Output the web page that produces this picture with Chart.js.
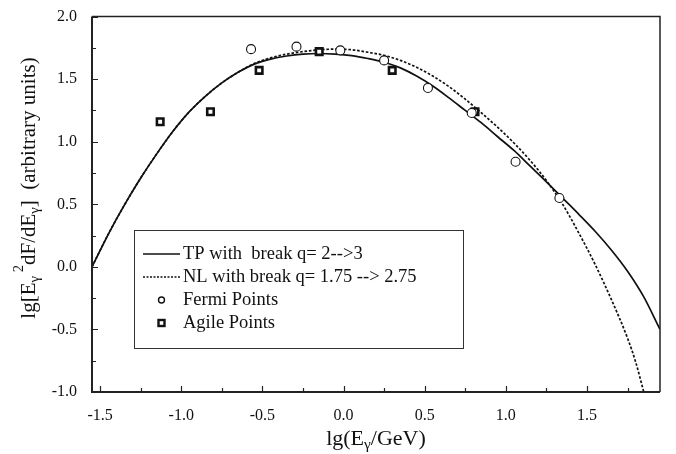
<!DOCTYPE html>
<html>
<head>
<meta charset="utf-8">
<script src="https://cdn.jsdelivr.net/npm/chart.js@4.4.1/dist/chart.umd.min.js"></script>
<style>
  html, body { margin: 0; padding: 0; background: #fff; }
  #wrap { width: 676px; height: 454px; }
</style>
</head>
<body>
<div id="wrap"><canvas id="chart" width="676" height="454"></canvas></div>
<script>
// tick labels
const xTicks = [-1.5, -1.0, -0.5, 0.0, 0.5, 1.0, 1.5];
const yTicks = [-1.0, -0.5, 0.0, 0.5, 1.0, 1.5, 2.0];

// model curves
const tpX = [-1.55,-1.45,-1.35,-1.25,-1.15,-1.05,-0.95,-0.85,-0.75,-0.65,-0.55,-0.45,-0.35,-0.25,-0.15,-0.05,0.05,0.15,0.25,0.35,0.45,0.55,0.65,0.75,0.85,0.95,1.05,1.15,1.25,1.35,1.45,1.55,1.65,1.75,1.85,1.95];
const tpY = [0.00,0.26,0.495,0.71,0.905,1.085,1.24,1.365,1.47,1.555,1.62,1.66,1.685,1.70,1.705,1.70,1.688,1.665,1.635,1.59,1.525,1.445,1.35,1.25,1.15,1.04,0.93,0.805,0.68,0.55,0.42,0.285,0.135,-0.035,-0.24,-0.50];
const nlX = [-1.55,-1.45,-1.35,-1.25,-1.15,-1.05,-0.95,-0.85,-0.75,-0.65,-0.55,-0.45,-0.35,-0.25,-0.15,-0.05,0.05,0.15,0.25,0.35,0.45,0.55,0.65,0.75,0.85,0.95,1.05,1.15,1.25,1.35,1.45,1.55,1.65,1.75,1.80,1.85];
const nlY = [0.00,0.26,0.495,0.71,0.905,1.085,1.24,1.365,1.47,1.555,1.625,1.67,1.70,1.72,1.735,1.74,1.735,1.715,1.69,1.65,1.595,1.525,1.44,1.34,1.23,1.115,0.99,0.85,0.69,0.50,0.27,0.02,-0.26,-0.57,-0.76,-1.00];

// measured points
const fermiX = [-0.57, -0.29, -0.02, 0.25, 0.52, 0.79, 1.06, 1.33];
const fermiY = [1.74, 1.76, 1.73, 1.65, 1.43, 1.23, 0.84, 0.55];
const agileX = [-1.13, -0.82, -0.52, -0.15, 0.30, 0.81];
const agileY = [1.16, 1.24, 1.57, 1.72, 1.57, 1.24];

const legendLabels = ['TP with  break q= 2-->3', 'NL with break q= 1.75 --> 2.75', 'Fermi Points', 'Agile Points'];

const SERIF = '"Liberation Serif", "DejaVu Serif", serif';
const pts = (xs, ys) => xs.map((x, i) => ({ x: x, y: ys[i] }));

// draw text with sub/superscripts, centred on (0,0) of current transform
function drawRich(ctx, segs, size) {
  const widths = segs.map(s => {
    ctx.font = (s.sub || s.sup ? size * 0.7 : size) + 'px ' + SERIF;
    return ctx.measureText(s.t).width;
  });
  let x = -widths.reduce((a, b) => a + b, 0) / 2;
  segs.forEach((s, i) => {
    ctx.font = (s.sub || s.sup ? size * 0.7 : size) + 'px ' + SERIF;
    const dy = s.sub ? size * 0.28 : (s.sup ? -size * 0.45 : 0);
    ctx.fillText(s.t, x, dy);
    x += widths[i];
  });
}

const decorations = {
  id: 'decorations',
  afterDraw(chart) {
    const ctx = chart.ctx;
    const a = chart.chartArea;
    const xs = chart.scales.x, ys = chart.scales.y;
    ctx.save();
    ctx.strokeStyle = '#222';

    // frame
    ctx.lineWidth = 1.5;
    ctx.beginPath();
    ctx.moveTo(a.left, a.top); ctx.lineTo(a.right, a.top); ctx.lineTo(a.right, a.bottom);
    ctx.stroke();
    ctx.lineWidth = 2;
    ctx.beginPath();
    ctx.moveTo(a.left, a.top); ctx.lineTo(a.left, a.bottom); ctx.lineTo(a.right, a.bottom);
    ctx.stroke();

    // inward ticks, major + minor
    ctx.lineWidth = 1.2;
    ctx.beginPath();
    for (let v = -1.5; v <= 1.95; v += 0.25) {
      const px = Math.round(xs.getPixelForValue(v)) + 0.5;
      const len = Math.abs(v * 2 - Math.round(v * 2)) < 1e-6 ? 6 : 4;
      ctx.moveTo(px, a.bottom); ctx.lineTo(px, a.bottom - len);
    }
    for (let v = -1.0; v <= 2.0; v += 0.25) {
      const py = Math.round(ys.getPixelForValue(v)) + 0.5;
      const len = Math.abs(v * 2 - Math.round(v * 2)) < 1e-6 ? 6 : 4;
      ctx.moveTo(a.left, py); ctx.lineTo(a.left + len, py);
    }
    ctx.stroke();

    // legend box
    const bx = 134, by = 230, bw = 329, bh = 118;
    ctx.fillStyle = '#fff';
    ctx.fillRect(bx, by, bw, bh);
    ctx.lineWidth = 1;
    ctx.strokeStyle = '#333';
    ctx.strokeRect(bx + 0.5, by + 0.5, bw, bh);

    ctx.fillStyle = '#111';
    ctx.textBaseline = 'middle';
    ctx.textAlign = 'left';
    ctx.font = '18.5px ' + SERIF;
    const rowY = [254, 277, 300, 323];
    legendLabels.forEach((lbl, i) => ctx.fillText(lbl, 183, rowY[i]));

    ctx.strokeStyle = '#111';
    ctx.lineWidth = 1.6;
    ctx.beginPath(); ctx.moveTo(143, rowY[0]); ctx.lineTo(180, rowY[0]); ctx.stroke();
    ctx.setLineDash([2, 1.5]);
    ctx.lineWidth = 1.3;
    ctx.beginPath(); ctx.moveTo(143, rowY[1]); ctx.lineTo(180, rowY[1]); ctx.stroke();
    ctx.setLineDash([]);
    ctx.lineWidth = 1.4;
    ctx.beginPath(); ctx.arc(161.5, rowY[2], 3, 0, Math.PI * 2); ctx.stroke();
    ctx.lineWidth = 2.4;
    ctx.strokeRect(158.5, rowY[3] - 3, 6, 6);

    // axis titles
    ctx.fillStyle = '#111';
    ctx.textAlign = 'left';
    ctx.textBaseline = 'middle';
    ctx.save();
    ctx.translate(376, 439);
    drawRich(ctx, [{ t: 'lg(E' }, { t: 'γ', sub: true }, { t: '/GeV)' }], 22);
    ctx.restore();

    ctx.save();
    ctx.translate(29, 188);
    ctx.rotate(-Math.PI / 2);
    drawRich(ctx, [
      { t: 'lg[E' }, { t: 'γ', sub: true }, { t: ' 2', sup: true },
      { t: 'dF/dE' }, { t: 'γ', sub: true }, { t: ']  (arbitrary units)' }
    ], 21);
    ctx.restore();

    ctx.restore();
  }
};

const tickFont = { family: SERIF, size: 16 };

new Chart(document.getElementById('chart'), {
  type: 'scatter',
  data: {
    datasets: [
      {
        label: legendLabels[2],
        data: pts(fermiX, fermiY),
        pointStyle: 'circle',
        pointRadius: 4.5,
        borderWidth: 1.1,
        borderColor: '#111',
        backgroundColor: '#fff',
        order: 0
      },
      {
        label: legendLabels[3],
        data: pts(agileX, agileY),
        pointStyle: 'rect',
        pointRadius: 4.6,
        borderWidth: 2.6,
        borderColor: '#111',
        backgroundColor: '#fff',
        order: 0
      },
      {
        type: 'line',
        label: legendLabels[1],
        data: pts(nlX, nlY),
        showLine: true,
        borderColor: '#111',
        borderWidth: 1.7,
        borderDash: [2.6, 1.8],
        pointRadius: 0,
        cubicInterpolationMode: 'monotone',
        fill: false,
        order: 1
      },
      {
        type: 'line',
        label: legendLabels[0],
        data: pts(tpX, tpY),
        showLine: true,
        borderColor: '#111',
        borderWidth: 1.7,
        pointRadius: 0,
        cubicInterpolationMode: 'monotone',
        fill: false,
        order: 1
      }
    ]
  },
  options: {
    responsive: false,
    animation: false,
    events: [],
    layout: { padding: { top: 13, right: 16, left: 0, bottom: 0 } },
    plugins: { legend: { display: false }, tooltip: { enabled: false } },
    scales: {
      x: {
        type: 'linear',
        min: -1.55,
        max: 1.95,
        afterBuildTicks: s => { s.ticks = xTicks.map(v => ({ value: v })); },
        afterFit: s => { s.height = 62; },
        grid: { display: false },
        border: { display: false },
        ticks: { font: tickFont, color: '#111', padding: 6, maxRotation: 0, autoSkip: false, callback: v => v.toFixed(1) }
      },
      y: {
        type: 'linear',
        min: -1.0,
        max: 2.0,
        afterBuildTicks: s => { s.ticks = yTicks.map(v => ({ value: v })); },
        afterFit: s => { s.width = 92; },
        grid: { display: false },
        border: { display: false },
        ticks: { font: tickFont, color: '#111', padding: 7, autoSkip: false, callback: v => v.toFixed(1) }
      }
    }
  },
  plugins: [decorations]
});
</script>
</body>
</html>
